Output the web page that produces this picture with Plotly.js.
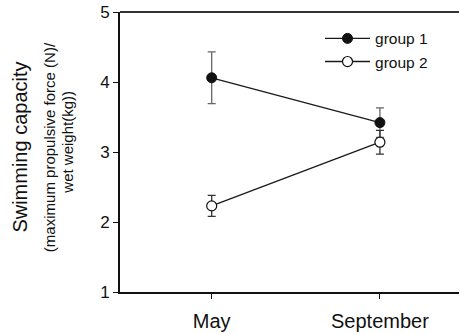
<!DOCTYPE html>
<html><head><meta charset="utf-8">
<script src="https://cdn.plot.ly/plotly-3.0.1.min.js"></script>
<style>body{margin:0;background:#fff}#c{width:460px;height:334px}</style>
</head><body><div id="c"></div>
<script>
var categories = ["May", "September"];
var catPos = [0, 1];
var group1 = [4.06, 3.42];
var group1Err = [0.37, 0.21];
var group2 = [2.23, 3.14];
var group2Err = [0.15, 0.17];
var yTicks = [1, 2, 3, 4, 5];

var font = "Liberation Sans, Arial, sans-serif";
var traces = [
  {x: catPos, y: group1, name: "group 1", type: "scatter", mode: "lines+markers",
   line: {color: "#1a1a1a", width: 1.3},
   marker: {color: "#111", size: 10, line: {color: "#111", width: 1}},
   error_y: {type: "data", array: group1Err, visible: true, color: "#666", thickness: 1.3, width: 4}},
  {x: catPos, y: group2, name: "group 2", type: "scatter", mode: "lines+markers",
   line: {color: "#1a1a1a", width: 1.3},
   marker: {color: "#fff", size: 10, line: {color: "#111", width: 1.2}},
   error_y: {type: "data", array: group2Err, visible: true, color: "#333", thickness: 1.3, width: 4}}
];
var layout = {
  width: 460, height: 334,
  margin: {l: 120, r: 1, t: 12, b: 42},
  paper_bgcolor: "#fff", plot_bgcolor: "#fff",
  font: {family: font, color: "#111"},
  showlegend: true,
  legend: {x: 0.59, y: 0.965, xanchor: "left", yanchor: "top", bgcolor: "rgba(0,0,0,0)",
    font: {size: 15.5, family: font}, tracegroupgap: 0, itemwidth: 45},
  xaxis: {range: [-0.545, 1.47], tickvals: catPos, ticktext: categories,
    showgrid: false, zeroline: false, showline: true, linecolor: "#111", linewidth: 2,
    ticks: "outside", ticklen: 5, tickcolor: "#111", tickfont: {size: 20, family: font},
    ticklabelstandoff: 5},
  yaxis: {range: [1, 5], tickvals: yTicks, showgrid: false, zeroline: false,
    showline: true, linecolor: "#111", linewidth: 2,
    ticks: "outside", ticklen: 5, tickcolor: "#111", tickfont: {size: 17, family: font}},
  shapes: [{type: "line", xref: "paper", yref: "paper", x0: 0, x1: 1, y0: 1, y1: 1,
    line: {color: "#333", width: 1.8}}],
  annotations: [
    {text: "Swimming capacity", xref: "paper", yref: "paper", x: -0.296, y: 0.518,
     xanchor: "center", yanchor: "middle",
     textangle: -90, showarrow: false, font: {size: 20, family: font}},
    {text: "(maximum propulsive force (N)/", xref: "paper", yref: "paper", x: -0.206, y: 0.518,
     xanchor: "center", yanchor: "middle",
     textangle: -90, showarrow: false, font: {size: 15, family: font}},
    {text: "wet weight(kg))", xref: "paper", yref: "paper", x: -0.155, y: 0.535,
     xanchor: "center", yanchor: "middle",
     textangle: -90, showarrow: false, font: {size: 15, family: font}}
  ]
};
Plotly.newPlot("c", traces, layout, {displayModeBar: false, staticPlot: true});
</script></body></html>
